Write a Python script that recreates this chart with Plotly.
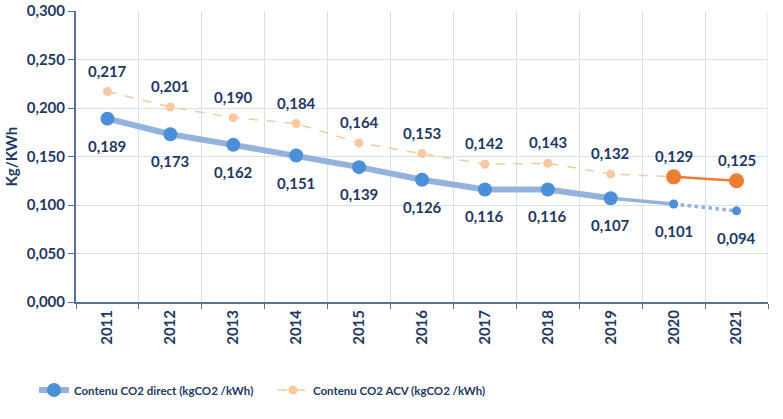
import plotly.graph_objects as go

years = [2011, 2012, 2013, 2014, 2015, 2016, 2017, 2018, 2019, 2020, 2021]
co2_direct = [0.189, 0.173, 0.162, 0.151, 0.139, 0.126, 0.116, 0.116, 0.107, 0.101, 0.094]
co2_acv = [0.217, 0.201, 0.190, 0.184, 0.164, 0.153, 0.142, 0.143, 0.132, 0.129, 0.125]
y_ticks = [0.0, 0.05, 0.10, 0.15, 0.20, 0.25, 0.30]

TXT = "#1F3864"
FONT = "Lato"
BLUE_L = "#93B3DD"
BLUE_M = "#4A8FD8"
ORA_L = "#F8C8A0"
ORA = "#ED7D31"
AXC = "#5A7196"
GRID = "#D9E0EC"

boundaries = [y - 0.5 for y in years] + [years[-1] + 0.5]

fig = go.Figure()

fig.add_trace(go.Scatter(
    x=years[:10], y=co2_acv[:10], mode="lines+markers",
    line=dict(color=ORA_L, width=1.5, dash="dash"),
    marker=dict(color=ORA_L, size=9), showlegend=False))
fig.add_trace(go.Scatter(
    x=years[9:], y=co2_acv[9:], mode="lines+markers",
    line=dict(color=ORA, width=2.5),
    marker=dict(color=ORA, size=15), showlegend=False))

fig.add_trace(go.Scatter(
    x=years[8:10], y=co2_direct[8:10], mode="lines",
    line=dict(color=BLUE_L, width=3.5), showlegend=False))
fig.add_trace(go.Scatter(
    x=years[9:], y=co2_direct[9:], mode="lines+markers",
    line=dict(color=BLUE_L, width=3.5, dash="dot"),
    marker=dict(color=BLUE_M, size=9), showlegend=False))
fig.add_trace(go.Scatter(
    x=years[:9], y=co2_direct[:9], mode="lines+markers",
    line=dict(color=BLUE_L, width=6),
    marker=dict(color=BLUE_M, size=14),
    name="Contenu CO2 direct (kgCO2 /kWh)"))
fig.add_trace(go.Scatter(
    x=[None], y=[None], mode="lines+markers",
    line=dict(color=ORA_L, width=1.5, dash="dash"),
    marker=dict(color=ORA_L, size=9),
    name="Contenu CO2 ACV (kgCO2 /kWh)"))

for yr, v in zip(years, co2_direct):
    fig.add_annotation(x=yr, y=v, text=f"{v:.3f}".replace(".", ","), showarrow=False,
                       yshift=-27, font=dict(family=FONT, size=15, color=TXT, weight="bold"))
for yr, v in zip(years, co2_acv):
    fig.add_annotation(x=yr, y=v, text=f"{v:.3f}".replace(".", ","), showarrow=False,
                       yshift=21, font=dict(family=FONT, size=15, color=TXT, weight="bold"))

fig.add_annotation(xref="paper", yref="paper", x=0, y=0.5, xanchor="center", yanchor="middle",
                   xshift=-66, text="Kg/KWh", textangle=-90, showarrow=False,
                   font=dict(family=FONT, size=15, color=TXT, weight="bold"))

# right-edge category boundary gridline
fig.add_shape(type="line", xref="x", yref="paper", x0=boundaries[-1], x1=boundaries[-1],
              y0=0, y1=1, line=dict(color=GRID, width=1), layer="below")

fig.update_layout(
    width=783, height=419,
    margin=dict(l=76, r=15, t=11, b=117, autoexpand=False),
    paper_bgcolor="white", plot_bgcolor="white",
    separators=", ",
    font=dict(family=FONT, color=TXT, size=13),
    legend=dict(orientation="h", xref="container", yref="container",
                x=0.0434, xanchor="left", y=0.0692, yanchor="middle",
                font=dict(family=FONT, size=11.5, color=TXT, weight="bold"),
                entrywidth=194, entrywidthmode="pixels", traceorder="normal"),
    xaxis=dict(range=[years[0] - 0.5, years[-1] + 0.5], tickvals=years,
               ticktext=[str(y) for y in years], showgrid=False, zeroline=False,
               showline=True, linecolor=AXC, linewidth=2, ticks="", automargin=False,
               minor=dict(tickvals=boundaries, showgrid=True, gridcolor=GRID, gridwidth=1,
                          ticks="outside", ticklen=5, tickcolor=AXC),
               tickangle=-90, tickfont=dict(family=FONT, size=15, color=TXT, weight="bold")),
    yaxis=dict(range=[0, 0.3], tickvals=y_ticks, tickformat=".3f", automargin=False,
               showgrid=True, gridcolor=GRID, gridwidth=1,
               showline=True, linecolor=AXC, linewidth=2,
               ticks="outside", ticklen=6, tickcolor=AXC, zeroline=False,
               tickfont=dict(family=FONT, size=15, color=TXT, weight="bold")),
)

fig.write_html("out.html", config={"displayModeBar": False},
               post_script="document.body.style.margin='0';")
